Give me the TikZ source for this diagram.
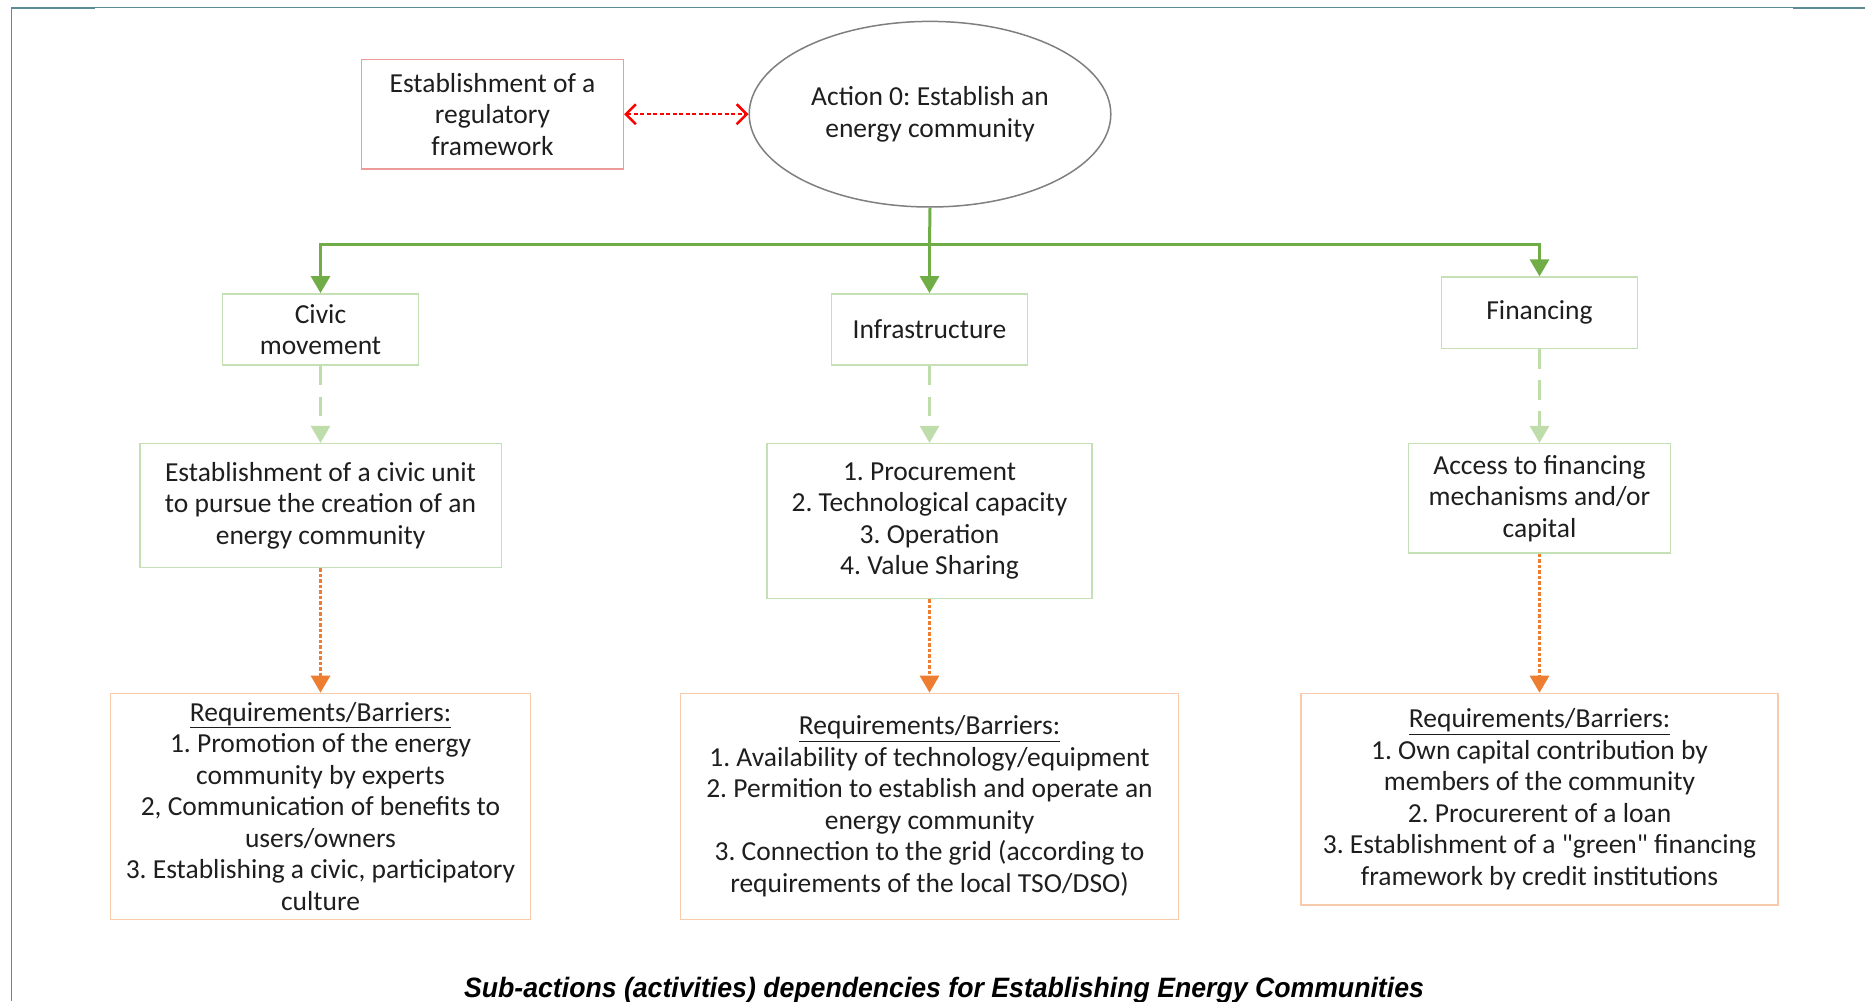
\documentclass[tikz,border=0pt]{standalone}
\usepackage{fontspec}
\setmainfont{Carlito}[Ligatures=TeXOff]
\newfontfamily\captionface{Liberation Sans}
\usetikzlibrary{arrows.meta,shapes.geometric}
\frenchspacing

\definecolor{frameC}{HTML}{5E8A94}
\definecolor{solidG}{HTML}{70AD47}
\definecolor{paleG}{HTML}{C5E0B4}
\definecolor{dashG}{HTML}{BFDDAB}
\definecolor{paleO}{HTML}{F8CBAD}
\definecolor{dotO}{HTML}{ED7D31}
\definecolor{paleR}{HTML}{EC9A9A}
\definecolor{ovalC}{HTML}{7F7F7F}
\definecolor{inkC}{HTML}{1E1E1E}

\newcommand\bodyfont{\fontsize{27.5pt}{31.5pt}\selectfont}

\tikzset{
  box/.style={draw, line width=1.5pt, inner sep=0pt, align=center,
    font=\bodyfont, text=inkC},
  redbox/.style={box, draw=paleR},
  greenbox/.style={box, draw=paleG},
  orangebox/.style={box, draw=paleO},
  oval/.style={box, draw=ovalC, ellipse},
  mainarrow/.style={draw=solidG, line width=3pt,
    -{Triangle[width=19pt,length=17pt,fill=solidG]}},
  mainline/.style={draw=solidG, line width=3pt},
  softarrow/.style={draw=dashG, line width=3pt, dash pattern=on 19.5pt off 11.5pt,
    -{Triangle[width=19pt,length=17pt,fill=dashG]}},
  needarrow/.style={draw=dotO, line width=3pt, dash pattern=on 3.5pt off 2pt,
    -{Triangle[width=19pt,length=17pt,fill=dotO]}},
  linkarrow/.style={draw=red, line width=2.5pt, dash pattern=on 4pt off 2.5pt,
    {Straight Barb[length=10pt,width=20pt]}-{Straight Barb[length=10pt,width=20pt]}},
}

\begin{document}
\begin{tikzpicture}[x=1pt,y=-1pt]
\useasboundingbox (0,0) rectangle (1865,1001);

% page frame
\draw[frameC, line width=1.2pt] (95,7.3) -- (1793,7.3);
\draw[frameC, line width=2.6pt] (11,8) -- (95,8);
\draw[frameC, line width=2.6pt] (1793,8) -- (1865,8);
\draw[frameC, line width=1.6pt] (11.5,7) -- (11.5,1001);

% top level
\node[redbox, minimum width=261.7pt, minimum height=109.4pt] (reg) at (492.5,114.2)
  {Establishment of a\\regulatory\\framework};
\node[oval, minimum width=361.6pt, minimum height=185.6pt] (act) at (930,114.2)
  {Action 0: Establish an\\energy community};

% second level
\node[greenbox, minimum width=196.3pt, minimum height=71.3pt] (civic) at (320.5,329.5)
  {Civic\\movement};
\node[greenbox, minimum width=196.3pt, minimum height=71.3pt] (infra) at (929.5,329.5)
  {Infrastructure};
\node[greenbox, minimum width=196.3pt, minimum height=71.3pt] (fin) at (1539.5,312.8)
  {Financing};

% third level
\node[greenbox, minimum width=361.5pt, minimum height=123.7pt] (unit) at (320.5,505.5)
  {Establishment of a civic unit\\to pursue the creation of an\\energy community};
\node[greenbox, minimum width=324.7pt, minimum height=154.7pt] (steps) at (929.5,521)
  {1. Procurement\\2. Technological capacity\\3. Operation\\4. Value Sharing};
\node[greenbox, minimum width=261.8pt, minimum height=109.5pt] (access) at (1539.5,498.4)
  {Access to financing\\mechanisms and/or\\capital};

% requirements
\node[orangebox, minimum width=420pt, minimum height=226pt] (reqA) at (320.5,806.4)
  {\underline{Requirements/Barriers:}\\1. Promotion of the energy\\community by experts\\
   2, Communication of benefits to\\users/owners\\3. Establishing a civic, participatory\\culture};
\node[orangebox, minimum width=498.4pt, minimum height=226pt] (reqB) at (929.5,806.4)
  {\underline{Requirements/Barriers:}\\1. Availability of technology/equipment\\
   2. Permition to establish and operate an\\energy community\\
   3. Connection to the grid (according to\\requirements of the local TSO/DSO)};
\node[orangebox, minimum width=477pt, minimum height=211.7pt] (reqC) at (1539.5,799.3)
  {\underline{Requirements/Barriers:}\\1. Own capital contribution by\\members of the community\\
   2. Procurerent of a loan\\3. Establishment of a "green" financing\\framework by credit institutions};

% connectors
\draw[linkarrow] (reg.east) -- (act.west);

\coordinate (split) at (929.5,244);
\draw[mainline] (act.south) -- (split);
\draw[mainarrow] (split) -- (infra.north);
\draw[mainarrow] (split) -| (civic.north);
\draw[mainarrow] (split) -| (fin.north);

\draw[softarrow] (civic.south) -- (unit.north);
\draw[softarrow] (infra.south) -- (steps.north);
\draw[softarrow] (fin.south) -- (access.north);

\draw[needarrow] (unit.south) -- (reqA.north);
\draw[needarrow] (steps.south) -- (reqB.north);
\draw[needarrow] (access.south) -- (reqC.north);

% caption
\node[anchor=base, inner sep=0pt, font=\captionface\bfseries\itshape\fontsize{28pt}{32pt}\selectfont,
  xscale=0.952] (cap) at (944,997)
  {Sub-actions (activities) dependencies for Establishing Energy Communities};
\end{tikzpicture}
\end{document}
